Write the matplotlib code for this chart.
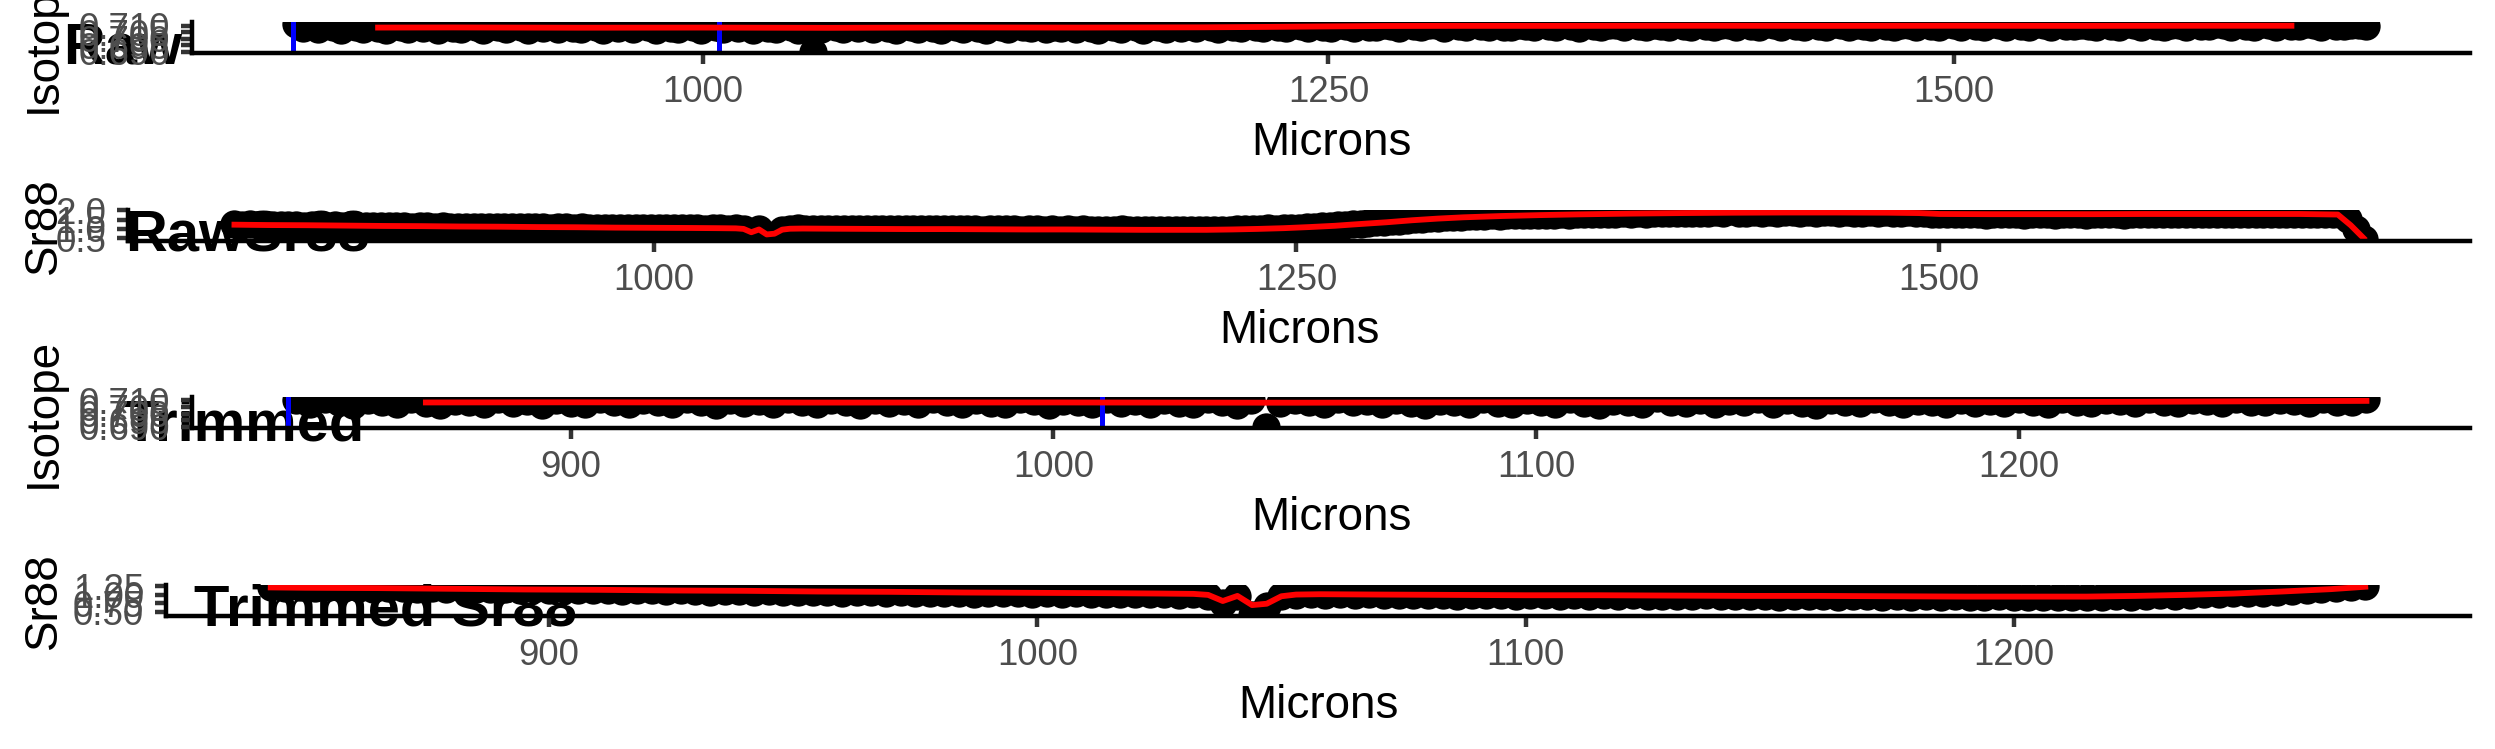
import numpy as np
import matplotlib
matplotlib.use('Agg')
import matplotlib.pyplot as plt

plt.rcParams['font.family'] = ['Liberation Sans', 'DejaVu Sans']

# laser track positions, one spot every 3 microns
microns = np.arange(837, 1666, 3)

# 87Sr/86Sr ratio per spot (rows of 20 spots = 60 microns)
isotope = [
    0.7112, 0.7079, 0.7101, 0.7071, 0.7108, 0.7086, 0.7069, 0.7103, 0.7090, 0.7074, 0.7114, 0.7083, 0.7068, 0.7099, 0.7088, 0.7072, 0.7110, 0.7081, 0.7095, 0.7067,
    0.7106, 0.7084, 0.7073, 0.7111, 0.7092, 0.7070, 0.7100, 0.7087, 0.7076, 0.7113, 0.7089, 0.7068, 0.7104, 0.7080, 0.7097, 0.7071, 0.7109, 0.7085, 0.7074, 0.7102,
    0.7091, 0.7069, 0.7107, 0.7082, 0.7096, 0.7072, 0.7115, 0.7088, 0.7070, 0.7101, 0.7084, 0.7075, 0.7110, 0.7093, 0.7067, 0.7098, 0.7086, 0.7073, 0.7112, 0.7080,
    0.7094, 0.7070, 0.7105, 0.7083, 0.7072, 0.7108, 0.7090, 0.7069, 0.7100, 0.6900, 0.7077, 0.7103, 0.7087, 0.7071, 0.7111, 0.7085, 0.7096, 0.7074, 0.7106, 0.7082,
    0.7068, 0.7099, 0.7089, 0.7073, 0.7113, 0.7084, 0.7070, 0.7102, 0.7092, 0.7076, 0.7109, 0.7081, 0.7067, 0.7097, 0.7088, 0.7072, 0.7116, 0.7086, 0.7079, 0.7104,
    0.7071, 0.7093, 0.7085, 0.7110, 0.7074, 0.7100, 0.7083, 0.7069, 0.7107, 0.7091, 0.7077, 0.7112, 0.7086, 0.7070, 0.7098, 0.7089, 0.7075, 0.7105, 0.7082, 0.7094,
    0.7078, 0.7108, 0.7090, 0.7076, 0.7113, 0.7087, 0.7081, 0.7101, 0.7093, 0.7078, 0.7110, 0.7089, 0.7083, 0.7106, 0.7095, 0.7080, 0.7114, 0.7091, 0.7085, 0.7104,
    0.7097, 0.7082, 0.7111, 0.7092, 0.7086, 0.7108, 0.7099, 0.7084, 0.7115, 0.7094, 0.7088, 0.7106, 0.7101, 0.7085, 0.7112, 0.7096, 0.7089, 0.7109, 0.7098, 0.7087,
    0.7113, 0.7093, 0.7086, 0.7107, 0.7100, 0.7088, 0.7116, 0.7095, 0.7090, 0.7110, 0.7097, 0.7084, 0.7112, 0.7099, 0.7089, 0.7105, 0.7102, 0.7087, 0.7114, 0.7094,
    0.7091, 0.7108, 0.7098, 0.7086, 0.7117, 0.7096, 0.7090, 0.7111, 0.7100, 0.7088, 0.7106, 0.7103, 0.7089, 0.7113, 0.7095, 0.7092, 0.7109, 0.7101, 0.7087, 0.7115,
    0.7097, 0.7090, 0.7110, 0.7099, 0.7088, 0.7114, 0.7102, 0.7093, 0.7107, 0.7096, 0.7089, 0.7116, 0.7100, 0.7091, 0.7108, 0.7103, 0.7087, 0.7112, 0.7098, 0.7092,
    0.7111, 0.7101, 0.7089, 0.7115, 0.7097, 0.7093, 0.7109, 0.7104, 0.7088, 0.7113, 0.7099, 0.7092, 0.7110, 0.7102, 0.7090, 0.7116, 0.7096, 0.7094, 0.7107, 0.7100,
    0.7089, 0.7114, 0.7098, 0.7093, 0.7111, 0.7103, 0.7088, 0.7112, 0.7100, 0.7092, 0.7108, 0.7105, 0.7090, 0.7115, 0.7097, 0.7094, 0.7110, 0.7101, 0.7089, 0.7113,
    0.7099, 0.7093, 0.7109, 0.7104, 0.7090, 0.7114, 0.7098, 0.7095, 0.7111, 0.7102, 0.7091, 0.7116, 0.7100, 0.7094, 0.7108, 0.7103, 0.7097,
]

# Sr88 signal per spot
sr88 = [
    1.25, 1.22, 1.24, 1.21, 1.23, 1.20, 1.22, 1.19, 1.21, 1.18, 1.20, 1.21, 1.18, 1.19, 1.17, 1.19, 1.16, 1.18, 1.17, 1.15,
    1.17, 1.15, 1.16, 1.13, 1.15, 1.14, 1.12, 1.14, 1.13, 1.11, 1.13, 1.12, 1.10, 1.12, 1.11, 1.09, 1.11, 1.10, 1.08, 1.10,
    1.09, 1.07, 1.09, 1.08, 1.06, 1.08, 1.07, 1.05, 1.07, 1.06, 1.04, 1.06, 1.05, 1.06, 1.04, 1.05, 1.03, 1.05, 1.04, 1.03,
    1.04, 1.02, 1.04, 1.03, 1.01, 1.03, 0.98, 0.76, 0.97, 0.42, 0.68, 0.96, 1.01, 1.03, 1.01, 1.02, 1.00, 1.02, 1.00, 1.01,
    0.99, 1.01, 1.00, 0.98, 1.00, 0.99, 1.01, 0.98, 1.00, 0.99, 0.97, 0.99, 0.98, 1.00, 0.97, 0.99, 0.98, 0.96, 0.98, 0.97,
    0.99, 0.97, 0.96, 0.98, 0.97, 0.95, 0.97, 0.96, 0.98, 0.95, 0.97, 0.96, 0.94, 0.96, 0.95, 0.97, 0.94, 0.96, 0.95, 0.94,
    0.96, 0.94, 0.95, 0.93, 0.95, 0.94, 0.93, 0.95, 0.96, 0.95, 0.97, 0.99, 0.98, 1.01, 1.03, 1.02, 1.05, 1.07, 1.06, 1.09,
    1.11, 1.14, 1.16, 1.19, 1.22, 1.25, 1.28, 1.31, 1.35, 1.38, 1.42, 1.45, 1.49, 1.52, 1.55, 1.57, 1.60, 1.62, 1.64, 1.66,
    1.68, 1.70, 1.71, 1.73, 1.72, 1.74, 1.75, 1.74, 1.76, 1.77, 1.76, 1.78, 1.79, 1.78, 1.80, 1.81, 1.80, 1.82, 1.81, 1.83,
    1.84, 1.82, 1.85, 1.83, 1.86, 1.84, 1.87, 1.85, 1.88, 1.86, 1.89, 1.87, 1.90, 1.88, 1.95, 1.89, 1.87, 1.90, 1.88, 1.91,
    1.89, 1.92, 1.90, 1.88, 1.91, 1.89, 1.92, 1.90, 1.88, 1.91, 1.89, 1.87, 1.90, 1.88, 1.91, 1.89, 1.87, 1.90, 1.86, 1.84,
    1.82, 1.80, 1.83, 1.81, 1.79, 1.82, 1.80, 1.78, 1.81, 1.79, 1.82, 1.80, 1.78, 1.81, 1.79, 1.80, 1.78, 1.81, 1.79, 1.80,
    1.78, 1.81, 1.79, 1.82, 1.80, 1.78, 1.81, 1.79, 1.82, 1.80, 1.83, 1.81, 1.79, 1.82, 1.80, 1.83, 1.81, 1.79, 1.82, 1.80,
    1.83, 1.81, 1.79, 1.82, 1.80, 1.83, 1.81, 1.80, 1.82, 1.81, 1.83, 1.80, 1.82, 1.79, 1.55, 1.00, 0.47,
]

# smoothed (red) lines
iso_smooth_x = [870, 900, 950, 1000, 1050, 1100, 1150, 1200, 1225, 1250, 1272, 1300,
                1350, 1400, 1450, 1500, 1550, 1600, 1635]
iso_smooth = [0.7085, 0.7086, 0.7084, 0.7085, 0.7083, 0.7086, 0.7085, 0.7087, 0.7090,
              0.7094, 0.7097, 0.7098, 0.7098, 0.7099, 0.7098, 0.7099, 0.7098, 0.7099, 0.7099]

sr_smooth_x = [837, 843, 850, 865, 880, 895, 910, 925, 940, 955, 970, 985, 1000, 1015, 1025,
               1032, 1035, 1038, 1041, 1044, 1047, 1050, 1053, 1058, 1070, 1085, 1100, 1115,
               1130, 1145, 1160, 1175, 1190, 1205, 1215, 1225, 1235, 1245, 1255, 1265, 1272,
               1285, 1295, 1305, 1315, 1330, 1345, 1360, 1380, 1400, 1420, 1440, 1460, 1480,
               1492, 1500, 1520, 1540, 1560, 1580, 1600, 1620, 1640, 1655, 1660, 1665]
sr_smooth = [1.23, 1.22, 1.21, 1.20, 1.18, 1.16, 1.15, 1.13, 1.12, 1.10, 1.09, 1.07, 1.06, 1.05,
             1.04, 1.03, 1.00, 0.82, 0.97, 0.70, 0.74, 0.96, 1.01, 1.02, 1.01, 1.00, 0.99, 0.99,
             0.98, 0.97, 0.97, 0.96, 0.95, 0.95, 0.95, 0.97, 1.00, 1.04, 1.10, 1.17, 1.24, 1.36,
             1.47, 1.56, 1.63, 1.70, 1.75, 1.79, 1.83, 1.86, 1.88, 1.89, 1.89, 1.88, 1.86, 1.81,
             1.80, 1.80, 1.80, 1.81, 1.81, 1.81, 1.81, 1.78, 1.20, 0.50]

raw_cuts = [836, 1006.5]
trim_cuts = [841.5, 1010]
trim_lo, trim_hi = 841, 1273

raw_xticks = [1000, 1250, 1500]
trim_xticks = [900, 1000, 1100, 1200]
iso_yticks = [0.690, 0.695, 0.700, 0.705, 0.710]
raw_sr_yticks = [0.5, 1.0, 1.5, 2.0]
trim_sr_yticks = [0.50, 0.75, 1.00, 1.25]

W, H = 2495, 749
fig = plt.figure(figsize=(W / 300, H / 300), dpi=300)


def expand(v):
    lo, hi = min(v), max(v)
    d = (hi - lo) * 0.05
    return lo - d, hi + d


def panel(rect, x, y, sx, sy, cuts, xticks, yticks, fmt, ylab, title, tpos):
    l, t, r, b = rect
    ax = fig.add_axes([l / W, 1 - b / H, (r - l) / W, (b - t) / H])
    ax.patch.set_alpha(0)
    ax.plot(x, y, 'o', color='black', ms=6.8, mew=0)
    for c in cuts:
        ax.axvline(c, color='blue', lw=1.2)
    ax.plot(sx, sy, color='red', lw=1.4)
    ax.set_xlim(expand(x))
    ax.set_ylim(expand(y))
    ax.set_xticks(xticks)
    ax.set_yticks(yticks)
    ax.set_yticklabels([fmt.format(v) for v in yticks])
    for s in ['top', 'right']:
        ax.spines[s].set_visible(False)
    for s in ['bottom', 'left']:
        ax.spines[s].set_linewidth(1.07)
    ax.tick_params(length=2.75, width=1.07, color='#333333', labelcolor='#4D4D4D',
                   labelsize=8.8)
    ax.tick_params(axis='x', pad=2.6)
    ax.tick_params(axis='y', pad=2.5)
    ax.set_xlabel('Microns', fontsize=11, labelpad=2.6)
    fig.text(44 / W, 1 - (t + b) / 2 / H, ylab, rotation=90, fontsize=11,
             ha='center', va='center')
    fig.text(tpos[0] / W, 1 - tpos[1] / H, title, fontsize=13.9, fontweight='bold',
             ha='left', va='baseline', zorder=-1)
    return ax


x_all = np.array(microns)
iso_all = np.array(isotope)
sr_all = np.array(sr88)
keep = (x_all >= trim_lo) & (x_all <= trim_hi)
ix = np.array(iso_smooth_x)
sx = np.array(sr_smooth_x)
iso_keep = ix <= trim_hi
sr_keep = (sx >= trim_lo) & (sx <= trim_hi)

panel((192, 22, 2470, 53), x_all, iso_all, ix, iso_smooth, raw_cuts,
      raw_xticks, iso_yticks, '{:.3f}', 'Isotope', 'Raw', (63, 63))
panel((128, 210, 2470, 241), x_all, sr_all, sx, sr_smooth, [],
      raw_xticks, raw_sr_yticks, '{:.1f}', 'Sr88', 'RawSr88', (125, 252))
panel((192, 397, 2470, 428), x_all[keep], iso_all[keep], ix[iso_keep],
      np.array(iso_smooth)[iso_keep], trim_cuts,
      trim_xticks, iso_yticks, '{:.3f}', 'Isotope', 'Trimmed', (123, 441))
panel((166, 585, 2470, 616), x_all[keep], sr_all[keep], sx[sr_keep],
      np.array(sr_smooth)[sr_keep], [],
      trim_xticks, trim_sr_yticks, '{:.2f}', 'Sr88', 'Trimmed Sr88', (194, 625))

fig.savefig('out.png', dpi=300, facecolor='white')
